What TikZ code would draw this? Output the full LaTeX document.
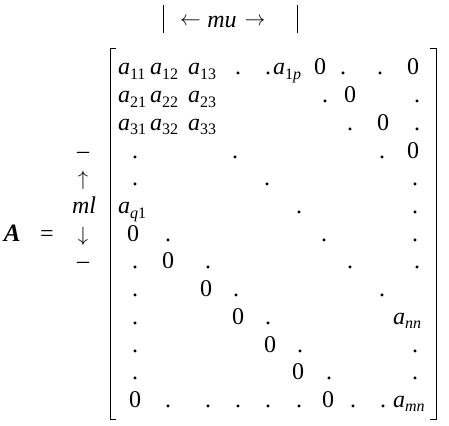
\documentclass[tikz,border=0pt]{standalone}
\usepackage{fontspec}
\setmainfont{Liberation Serif}
\newcommand{\ent}[2]{\textit{#1}\raisebox{-4.5pt}{\fontsize{16}{17}\selectfont #2}}
\begin{document}
\begin{tikzpicture}[x=1pt,y=-1pt,
  every node/.style={inner sep=0pt, outer sep=0pt, font=\fontsize{24}{27}\selectfont},
  e/.style={anchor=base},
  ew/.style={anchor=base west},
  arr/.style={font=\fontsize{20}{24}\selectfont},
  br/.style={line width=1pt},
  bar/.style={line width=1pt},
]
\useasboundingbox (0,0) rectangle (449,425);
% top label
\draw[bar] (163,5) -- (163,33);
\draw[bar] (297,5) -- (297,33);
\node[arr] (la) at (190.5,22) {$\leftarrow$};
\node[e] (mu) at (222,28) {\textit{mu}};
\node[arr] (ra) at (255,22) {$\rightarrow$};
% left side
\node[ew,font=\fontsize{25}{28}\selectfont] (A) at (4,241.2) {\textbf{\textit{A}}};
\node[e] (eq) at (47,241.2) {=};
\node[e] (m1) at (83,158.1) {–};
\node[arr,e] (up) at (83,185.8) {$\uparrow$};
\node[e] (ml) at (84,213.5) {\textit{ml}};
\node[arr,e] (dn) at (83,241.2) {$\downarrow$};
\node[e] (m2) at (83,268.9) {–};
% brackets
\draw[br] (116,49) -- (110,49) -- (110,419) -- (116,419);
\draw[br] (430,49) -- (436,49) -- (436,419) -- (430,419);
% row 1
\node[ew] (a11) at (118,75) {\ent{a}{11}};
\node[ew] (a12) at (150,75) {\ent{a}{12}};
\node[ew] (a13) at (188,75) {\ent{a}{13}};
\node[e] (d1a) at (238,75) {.};
\node[e] (d1b) at (268,75) {.};
\node[ew] (a1p) at (273,75) {\ent{a}{1\textit{p}}};
\node[e] (z1a) at (320,75) {0};
\node[e] (d1c) at (343,75) {.};
\node[e] (d1d) at (380,75) {.};
\node[e] (z1b) at (413,75) {0};
% row 2
\node[ew] (a21) at (118,102.7) {\ent{a}{21}};
\node[ew] (a22) at (150,102.7) {\ent{a}{22}};
\node[ew] (a23) at (188,102.7) {\ent{a}{23}};
\node[e] (d2a) at (325,102.7) {.};
\node[e] (z2a) at (350,102.7) {0};
\node[e] (d2b) at (417,102.7) {.};
% row 3
\node[ew] (a31) at (118,130.4) {\ent{a}{31}};
\node[ew] (a32) at (150,130.4) {\ent{a}{32}};
\node[ew] (a33) at (188,130.4) {\ent{a}{33}};
\node[e] (d3a) at (350,130.4) {.};
\node[e] (z3a) at (383,130.4) {0};
\node[e] (d3b) at (417,130.4) {.};
% row 4
\node[e] (d4a) at (135,158.1) {.};
\node[e] (d4b) at (235,158.1) {.};
\node[e] (d4c) at (382,158.1) {.};
\node[e] (z4a) at (413,158.1) {0};
% row 5
\node[e] (d5a) at (135,185.8) {.};
\node[e] (d5b) at (267,185.8) {.};
\node[e] (d5c) at (415,185.8) {.};
% row 6
\node[ew] (aq1) at (118,213.5) {\ent{a}{\textit{q}1}};
\node[e] (d6a) at (299,213.5) {.};
\node[e] (d6b) at (415,213.5) {.};
% row 7
\node[e] (z7a) at (133,241.2) {0};
\node[e] (d7a) at (168,241.2) {.};
\node[e] (d7b) at (324,241.2) {.};
\node[e] (d7c) at (415,241.2) {.};
% row 8
\node[e] (d8a) at (135,268.9) {.};
\node[e] (z8a) at (168,268.9) {0};
\node[e] (d8b) at (208,268.9) {.};
\node[e] (d8c) at (350,268.9) {.};
\node[e] (d8d) at (417,268.9) {.};
% row 9
\node[e] (d9a) at (135,296.6) {.};
\node[e] (z9a) at (206,296.6) {0};
\node[e] (d9b) at (236,296.6) {.};
\node[e] (d9c) at (382,296.6) {.};
% row 10
\node[e] (d10a) at (135,324.3) {.};
\node[e] (z10a) at (238,324.3) {0};
\node[e] (d10b) at (268,324.3) {.};
\node[ew] (ann) at (393,324.3) {\ent{a}{\textit{nn}}};
% row 11
\node[e] (d11a) at (135,352) {.};
\node[e] (z11a) at (270,352) {0};
\node[e] (d11b) at (300,352) {.};
\node[e] (d11c) at (415,352) {.};
% row 12
\node[e] (d12a) at (135,379.7) {.};
\node[e] (z12a) at (298,379.7) {0};
\node[e] (d12b) at (329,379.7) {.};
\node[e] (d12c) at (415,379.7) {.};
% row 13
\node[e] (z13a) at (135,407.4) {0};
\node[e] (d13a) at (168,407.4) {.};
\node[e] (d13b) at (208,407.4) {.};
\node[e] (d13c) at (238,407.4) {.};
\node[e] (d13d) at (268,407.4) {.};
\node[e] (d13e) at (299,407.4) {.};
\node[e] (z13b) at (328,407.4) {0};
\node[e] (d13f) at (353,407.4) {.};
\node[e] (d13g) at (383,407.4) {.};
\node[ew] (amn) at (393,407.4) {\ent{a}{\textit{mn}}};
\end{tikzpicture}
\end{document}
